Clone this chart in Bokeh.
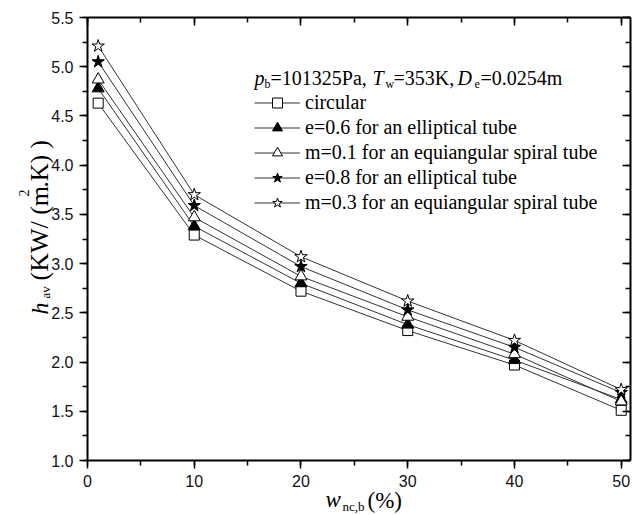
import math
from bokeh.plotting import figure
from bokeh.models import (Range1d, LinearAxis, SingleIntervalTicker, Legend, LegendItem,
                          Label, CustomJSTickFormatter, NumeralTickFormatter, ColumnDataSource)
from bokeh.embed import file_html
from bokeh.resources import INLINE

# ---------------- data ----------------
x_vals = [1, 10, 20, 30, 40, 50]
circular = [4.63, 3.29, 2.72, 2.32, 1.97, 1.51]
ellip_e06 = [4.78, 3.38, 2.80, 2.38, 2.02, 1.62]
spiral_m01 = [4.87, 3.47, 2.87, 2.46, 2.08, 1.60]
ellip_e08 = [5.05, 3.59, 2.97, 2.53, 2.15, 1.69]
spiral_m03 = [5.21, 3.70, 3.07, 2.62, 2.22, 1.72]

series_labels = ["circular",
                 "e=0.6 for an elliptical tube",
                 "m=0.1 for an equiangular spiral tube",
                 "e=0.8 for an elliptical tube",
                 "m=0.3 for an equiangular spiral tube"]
series_values = [circular, ellip_e06, spiral_m01, ellip_e08, spiral_m03]
series_markers = ["square", "triangle", "triangle", "star", "star"]
series_fills = ["white", "black", "white", "black", "white"]
series_sizes = [10, 12, 12, 13, 13]

# ---------------- layout ----------------
W, H = 636, 515
# plot box (axes rectangle) in canvas pixels
BL, BR, BT, BB = 87, 630, 17, 460
XMIN, XMAX = 0, 50.87
YMIN, YMAX = 1.0, 5.5

def dx(px):
    return XMIN + (px - BL) / (BR - BL) * (XMAX - XMIN)

def dy(py):
    return YMIN + (BB - py) / (BB - BT) * (YMAX - YMIN)

# the frame covers the whole canvas; axes are drawn at fixed data locations
p = figure(width=W, height=H, x_range=Range1d(dx(0), dx(W)), y_range=Range1d(dy(H), dy(0)),
           output_backend="svg", toolbar_location=None,
           x_axis_type=None, y_axis_type=None,
           min_border_left=0, min_border_right=0, min_border_top=0, min_border_bottom=0)
p.outline_line_color = None
p.background_fill_color = "white"
p.border_fill_color = "white"

blank = CustomJSTickFormatter(code="return ''")

def setup_axis(ax, outside):
    ax.axis_line_color = "black"
    ax.axis_line_width = 2
    ax.major_tick_line_color = "black"
    ax.minor_tick_line_color = "black"
    ax.major_tick_line_width = 1.5
    ax.minor_tick_line_width = 1.5
    if outside:
        ax.major_tick_out, ax.major_tick_in = 8, 0
        ax.minor_tick_out, ax.minor_tick_in = 5, 0
        ax.major_label_standoff = 6
        ax.major_label_text_font = "Liberation Sans"
        ax.major_label_text_font_size = "16px"
        ax.major_label_text_color = "#111111"
    else:
        ax.major_tick_out, ax.major_tick_in = 0, 8
        ax.minor_tick_out, ax.minor_tick_in = 0, 5
        ax.major_label_standoff = 0
        ax.formatter = blank

xb = LinearAxis(ticker=SingleIntervalTicker(interval=10, num_minor_ticks=2),
                fixed_location=YMIN, bounds=(XMIN, XMAX))
setup_axis(xb, True)
xt = LinearAxis(ticker=SingleIntervalTicker(interval=10, num_minor_ticks=2),
                fixed_location=YMAX, bounds=(XMIN, XMAX))
setup_axis(xt, False)
yl = LinearAxis(ticker=SingleIntervalTicker(interval=0.5, num_minor_ticks=2),
                formatter=NumeralTickFormatter(format="0.0"),
                fixed_location=XMIN, bounds=(YMIN, YMAX))
setup_axis(yl, True)
yr = LinearAxis(ticker=SingleIntervalTicker(interval=0.5, num_minor_ticks=2),
                fixed_location=XMAX, bounds=(YMIN, YMAX))
setup_axis(yr, False)
p.add_layout(xb, "below")
p.add_layout(xt, "above")
p.add_layout(yl, "left")
p.add_layout(yr, "right")

# ---------------- series ----------------
items = []
for lab_, vals, mk, fc, sz in zip(series_labels, series_values, series_markers, series_fills, series_sizes):
    src = ColumnDataSource(dict(x=x_vals, y=vals))
    lr = p.line("x", "y", source=src, line_color="#333333", line_width=1)
    sr = p.scatter("x", "y", source=src, marker=mk, size=sz, fill_color=fc,
                   line_color="black", line_width=1)
    items.append(LegendItem(label=lab_, renderers=[lr, sr]))

ROW = 25
LEG_TOP = 90
legend = Legend(items=items, location=(254, H - (LEG_TOP + 5 * ROW)),
                glyph_width=46, glyph_height=ROW, label_height=ROW, label_standoff=5,
                spacing=0, padding=0, margin=0, border_line_alpha=0,
                background_fill_alpha=0, label_text_font="Liberation Serif",
                label_text_font_size="20px", label_text_color="black")
p.add_layout(legend)

# ---------------- texts ----------------
def lab(text, px, py, size, italic=False, angle=0.0, font="Liberation Serif"):
    p.add_layout(Label(x=dx(px), y=dy(py), text=text, text_font=font,
                       text_font_size=f"{size}px",
                       text_font_style="italic" if italic else "normal",
                       text_color="black", angle=angle,
                       text_align="left", text_baseline="alphabetic"))

# header: p_b=101325Pa, T_w=353K, D_e=0.0254m
hb, sb = 77, 83
lab("p", 254, hb, 20, italic=True)
lab("b", 264, sb, 12)
lab("=101325Pa,", 270, hb, 20)
lab("T", 372, hb, 20, italic=True)
lab("w", 385, sb, 12)
lab("=353K,", 393, hb, 20)
lab("D", 457, hb, 20, italic=True)
lab("e", 474, sb, 12)
lab("=0.0254m", 480, hb, 20)

# y axis label: h_av (KW/(m^2.K))
a = math.pi / 2
lab("h", 39, 314, 24, italic=True, angle=a)
lab("av", 45, 298, 13, angle=a)
lab("(KW/ (m", 39, 280, 26, angle=a)
lab("2", 23, 196, 14, angle=a)
lab(".K) )", 39, 187, 25, angle=a)

# x axis label: w_nc,b (%)
lab("w", 325, 499, 23, italic=True)
lab("nc,b", 342, 506, 13)
lab("(%)", 367, 500, 23)

open("out.html", "w").write(file_html(p, INLINE))
